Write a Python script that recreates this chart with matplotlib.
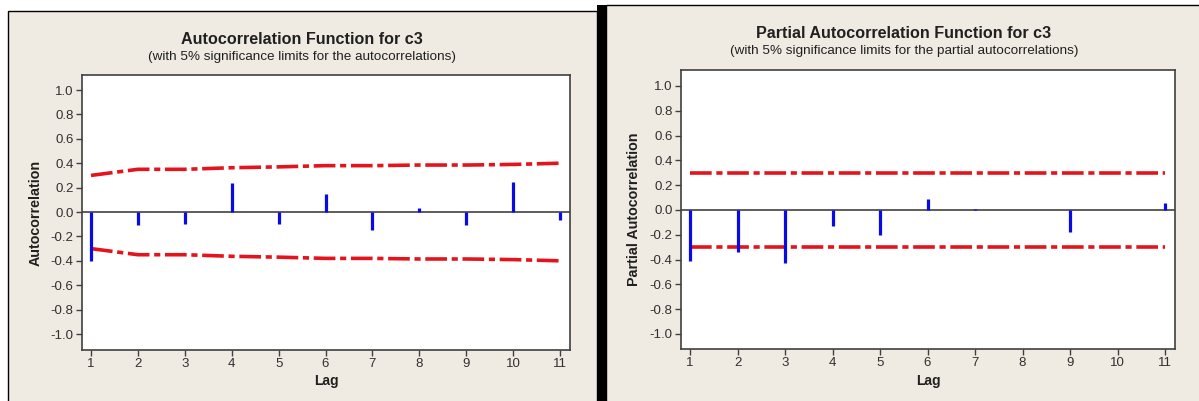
import matplotlib.pyplot as plt
from matplotlib.patches import Rectangle

lags = [1, 2, 3, 4, 5, 6, 7, 8, 9, 10, 11]
acf = [-0.40, -0.11, -0.10, 0.235, -0.10, 0.145, -0.15, 0.033, -0.11, 0.245, -0.062]
acf_limit = [0.30, 0.35, 0.35, 0.363, 0.37, 0.38, 0.38, 0.385, 0.385, 0.39, 0.40]
pacf = [-0.41, -0.34, -0.425, -0.13, -0.20, 0.086, 0.01, 0.0, -0.18, 0.0, 0.06]
pacf_limit = [0.30] * 11
yticks = [1.0, 0.8, 0.6, 0.4, 0.2, 0.0, -0.2, -0.4, -0.6, -0.8, -1.0]

W, H = 1199, 401
beige = '#f0ebe2'
plt.rcParams['font.family'] = ['Liberation Sans', 'DejaVu Sans']

fig = plt.figure(figsize=(W / 100, H / 100), dpi=100)
fig.patch.set_facecolor('white')


def box(x0, y0, x1, y1, **kw):
    # pixel rectangle -> figure rectangle, kept behind the axes
    fig.patches.append(Rectangle((x0 / W, 1 - y1 / H), (x1 - x0) / W, (y1 - y0) / H,
                                 transform=fig.transFigure, zorder=-10, **kw))


box(8, 11, 597, 402, facecolor=beige, edgecolor='black', lw=1)
box(606, 5, 1200, 402, facecolor=beige, edgecolor='black', lw=1)
box(597, 5, 606, 402, facecolor='black', edgecolor='none')


def panel(px, vals, limit, ylim, xlim, ylabel, title, sub, tx, ty):
    l, r, t, b = px
    ax = fig.add_axes([l / W, 1 - b / H, (r - l) / W, (b - t) / H])
    ax.set_facecolor('white')
    ax.axhline(0, color='#303030', lw=1.1, zorder=1)
    ax.vlines(lags, 0, vals, color='#0a0ae6', lw=2.3, zorder=3)
    for sign in (1, -1):
        ax.plot(lags, [sign * v for v in limit], color='#e3141c', lw=2.6,
                dashes=(6, 1.3, 1.7, 1.3), solid_capstyle='butt', zorder=2)
    ax.set_xlim(*xlim)
    ax.set_ylim(*ylim)
    ax.set_xticks(lags)
    ax.set_yticks(yticks)
    ax.set_yticklabels(['%.1f' % v for v in yticks])
    ax.tick_params(direction='out', length=4, width=1, color='#404040',
                   labelsize=9.5, labelcolor='#303030', pad=2)
    for s in ax.spines.values():
        s.set_color('#404040')
        s.set_linewidth(1.2)
    ax.set_xlabel('Lag', fontsize=10, fontweight='bold', labelpad=3, color='#202020')
    ax.set_ylabel(ylabel, fontsize=10.3, fontweight='bold', labelpad=6, color='#202020')
    fig.text(tx / W, 1 - ty / H, title, ha='center', va='center',
             fontsize=11.6, fontweight='bold', color='#202020')
    fig.text(tx / W, 1 - (ty + 18) / H, sub, ha='center', va='center',
             fontsize=9.7, color='#202020')
    return ax


panel((82, 570, 75, 350), acf, acf_limit, (-1.131, 1.123), (0.808, 11.213),
      'Autocorrelation', 'Autocorrelation Function for c3',
      '(with 5% significance limits for the autocorrelations)', 302, 39)
panel((681, 1175, 70, 349), pacf, pacf_limit, (-1.121, 1.129), (0.81, 11.21),
      'Partial Autocorrelation', 'Partial Autocorrelation Function for c3',
      '(with 5% significance limits for the partial autocorrelations)', 904, 33)

fig.savefig('out.png', dpi=100)
